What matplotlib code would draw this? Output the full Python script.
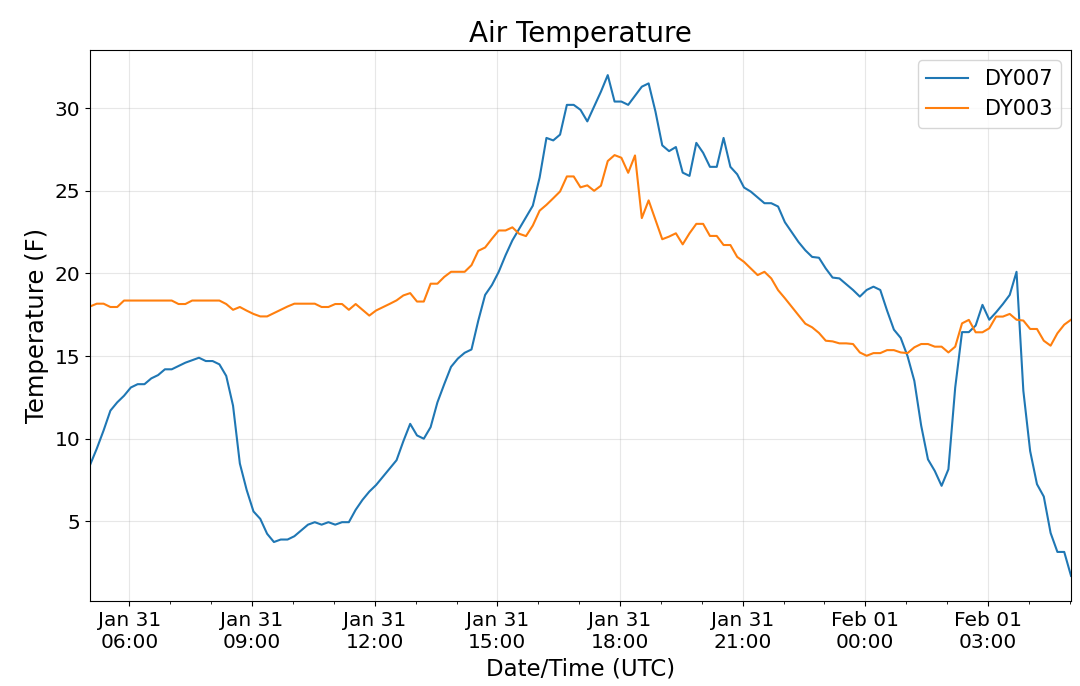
import pandas as pd
import matplotlib
matplotlib.use('Agg')
import matplotlib.pyplot as plt
import matplotlib.dates as mdates

# 10-minute readings, Jan 31 05:02 UTC to Feb 01 05:02 UTC
start_time = '2019-01-31 05:02'

dy007 = [8.4, 9.4, 10.5, 11.7, 12.2, 12.6, 13.1, 13.3, 13.3, 13.65,
         13.85, 14.2, 14.2, 14.4, 14.6, 14.75, 14.9, 14.7, 14.7, 14.5,
         13.8, 12.0, 8.5, 6.9, 5.6, 5.15, 4.25, 3.75, 3.9, 3.9,
         4.1, 4.45, 4.8, 4.95, 4.8, 4.95, 4.8, 4.95, 4.95, 5.7,
         6.3, 6.8, 7.2, 7.7, 8.2, 8.7, 9.85, 10.9, 10.2, 10.0,
         10.7, 12.2, 13.3, 14.35, 14.85, 15.2, 15.4, 17.15, 18.7, 19.3,
         20.1, 21.1, 22.0, 22.7, 23.4, 24.1, 25.8, 28.2, 28.05, 28.4,
         30.2, 30.2, 29.9, 29.2, 30.1, 31.0, 32.0, 30.4, 30.4, 30.2,
         30.75, 31.3, 31.5, 29.8, 27.75, 27.4, 27.65, 26.1, 25.9, 27.9,
         27.3, 26.45, 26.45, 28.2, 26.45, 26.0, 25.2, 24.95, 24.6, 24.25,
         24.25, 24.05, 23.1, 22.5, 21.9, 21.4, 21.0, 20.95, 20.3, 19.75,
         19.7, 19.35, 19.0, 18.6, 19.0, 19.2, 19.0, 17.75, 16.6, 16.1,
         15.0, 13.5, 10.8, 8.75, 8.05, 7.15, 8.15, 13.1, 16.45, 16.45,
         16.85, 18.1, 17.2, 17.65, 18.15, 18.7, 20.1, 12.9, 9.25, 7.25,
         6.5, 4.3, 3.15, 3.15, 1.7]

dy003 = [18.0, 18.17, 18.17, 17.97, 17.97, 18.36, 18.36, 18.36, 18.36, 18.36,
         18.36, 18.36, 18.36, 18.15, 18.15, 18.36, 18.36, 18.36, 18.36, 18.36,
         18.15, 17.8, 17.97, 17.75, 17.55, 17.4, 17.4, 17.6, 17.8, 18.0,
         18.17, 18.17, 18.17, 18.17, 17.97, 17.97, 18.15, 18.15, 17.8, 18.15,
         17.8, 17.45, 17.76, 17.96, 18.16, 18.37, 18.67, 18.81, 18.3, 18.3,
         19.38, 19.38, 19.79, 20.1, 20.1, 20.1, 20.5, 21.37, 21.57, 22.1,
         22.6, 22.6, 22.79, 22.4, 22.26, 22.9, 23.8, 24.15, 24.55, 24.96,
         25.87, 25.87, 25.21, 25.33, 25.0, 25.31, 26.8, 27.16, 27.0, 26.09,
         27.14, 23.35, 24.42, 23.25, 22.07, 22.23, 22.43, 21.76, 22.43, 23.0,
         23.0, 22.27, 22.27, 21.72, 21.72, 21.0, 20.7, 20.3, 19.9, 20.1,
         19.7, 18.99, 18.5, 17.98, 17.47, 16.96, 16.74, 16.4, 15.93, 15.89,
         15.77, 15.77, 15.73, 15.22, 15.02, 15.18, 15.18, 15.36, 15.36, 15.22,
         15.18, 15.53, 15.73, 15.73, 15.57, 15.57, 15.22, 15.57, 16.98, 17.19,
         16.44, 16.44, 16.68, 17.39, 17.39, 17.55, 17.2, 17.15, 16.64, 16.64,
         15.93, 15.63, 16.38, 16.9, 17.2]

times = pd.date_range(start_time, periods=len(dy007), freq='10min')

fig = plt.figure(figsize=(10.8, 6.86), dpi=100)
ax = fig.add_axes([0.0833, 0.124, 0.9084, 0.803])

ax.plot(times, dy007, color='#1f77b4', lw=1.5, label='DY007')
ax.plot(times, dy003, color='#ff7f0e', lw=1.5, label='DY003')

ax.set_xlim(times[0], times[-1])
ax.xaxis.set_major_locator(mdates.HourLocator(byhour=range(0, 24, 3)))
ax.xaxis.set_minor_locator(mdates.HourLocator())
ax.xaxis.set_major_formatter(mdates.DateFormatter('%b %d\n%H:%M'))
ax.set_yticks([5, 10, 15, 20, 25, 30])

ax.grid(True, alpha=0.3)
ax.tick_params(labelsize=14.5)
ax.set_title('Air Temperature', fontsize=20)
ax.set_xlabel('Date/Time (UTC)', fontsize=16.5)
ax.set_ylabel('Temperature (F)', fontsize=17.5)
ax.legend(loc='upper right', fontsize=15)

fig.savefig('out.png', dpi=100)
